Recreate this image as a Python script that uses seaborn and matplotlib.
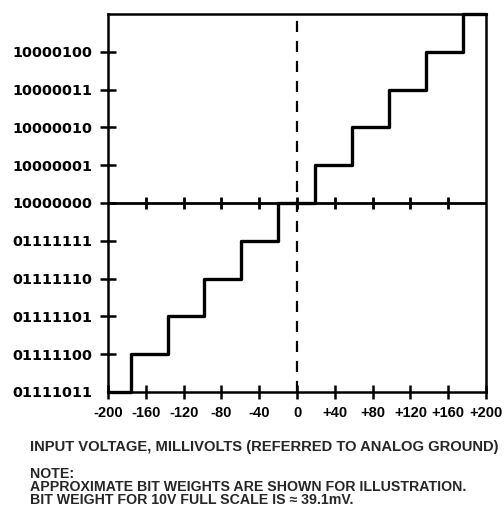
import numpy as np
import pandas as pd
import matplotlib
matplotlib.use('Agg')
import matplotlib.pyplot as plt
import seaborn as sns

# output codes, from bottom (-5) to top (+4)
code_labels = ['01111011', '01111100', '01111101', '01111110', '01111111',
               '10000000', '10000001', '10000010', '10000011', '10000100']
code_levels = [-5, -4, -3, -2, -1, 0, 1, 2, 3, 4]

# staircase: input voltage (mV) where each code starts
step_mv = [-200, -176, -137, -98, -59, -20, 19, 58, 97, 136, 176, 200]
step_code = [-5, -4, -3, -2, -1, 0, 1, 2, 3, 4, 5, 5]

x_ticks = [-200, -160, -120, -80, -40, 0, 40, 80, 120, 160, 200]
x_tick_labels = ['-200', '-160', '-120', '-80', '-40', '0', '+40', '+80', '+120', '+160', '+200']

sns.set_style('ticks')
plt.rcParams['font.family'] = ['Liberation Sans', 'DejaVu Sans']
plt.rcParams['font.weight'] = 'bold'

fig = plt.figure(figsize=(5.04, 5.09), dpi=100)
ax = fig.add_axes([0.2143, 0.2299, 0.75, 0.7426])

df = pd.DataFrame({'mv': step_mv, 'code': step_code})
sns.lineplot(data=df, x='mv', y='code', drawstyle='steps-post', color='black',
             linewidth=2.4, sort=False, ax=ax, clip_on=False, zorder=4)

ax.axhline(0, color='black', linewidth=2.0, zorder=3)
ax.axvline(0, color='black', linewidth=1.6, dashes=(5, 4), zorder=3)

# tick marks along the zero line
inner = [t for t in x_ticks if abs(t) < 200]
ax.scatter(inner, np.zeros(len(inner)), marker='|', s=70, linewidths=2,
           color='black', zorder=5)

ax.set_xlim(-200, 200)
ax.set_ylim(-5, 5)
ax.set_xticks(x_ticks)
ax.set_xticklabels(x_tick_labels)
ax.set_yticks(code_levels)
ax.set_yticklabels(code_labels)
ax.tick_params(axis='both', direction='inout', width=1.8, color='black',
               labelsize=10.5, labelcolor='black')
ax.tick_params(axis='y', length=11, pad=6)
ax.tick_params(axis='x', length=10, pad=5)
ax.yaxis.get_major_ticks()[0].tick1line.set_visible(False)
for lab in ax.get_yticklabels():
    lab.set_family(['DejaVu Sans'])
    lab.set_fontsize(10.4)
    lab.set_fontweight('bold')

for side in ['left', 'right', 'top', 'bottom']:
    ax.spines[side].set_visible(True)
    ax.spines[side].set_linewidth(1.8)
    ax.spines[side].set_color('black')

ax.set_xlabel('')
ax.set_ylabel('')

fig.text(0.06, 1 - 447 / 509, 'INPUT VOLTAGE, MILLIVOLTS (REFERRED TO ANALOG GROUND)',
         fontsize=10.6, fontweight='bold', va='center')
fig.text(0.06, 1 - 474 / 509, 'NOTE:', fontsize=10.2, fontweight='bold', va='center')
fig.text(0.06, 1 - 487 / 509, 'APPROXIMATE BIT WEIGHTS ARE SHOWN FOR ILLUSTRATION.',
         fontsize=10.2, fontweight='bold', va='center')
fig.text(0.06, 1 - 500 / 509, 'BIT WEIGHT FOR 10V FULL SCALE IS \u2248 39.1mV.',
         fontsize=10.2, fontweight='bold', va='center')

fig.savefig('out.png', dpi=100, facecolor='white')
